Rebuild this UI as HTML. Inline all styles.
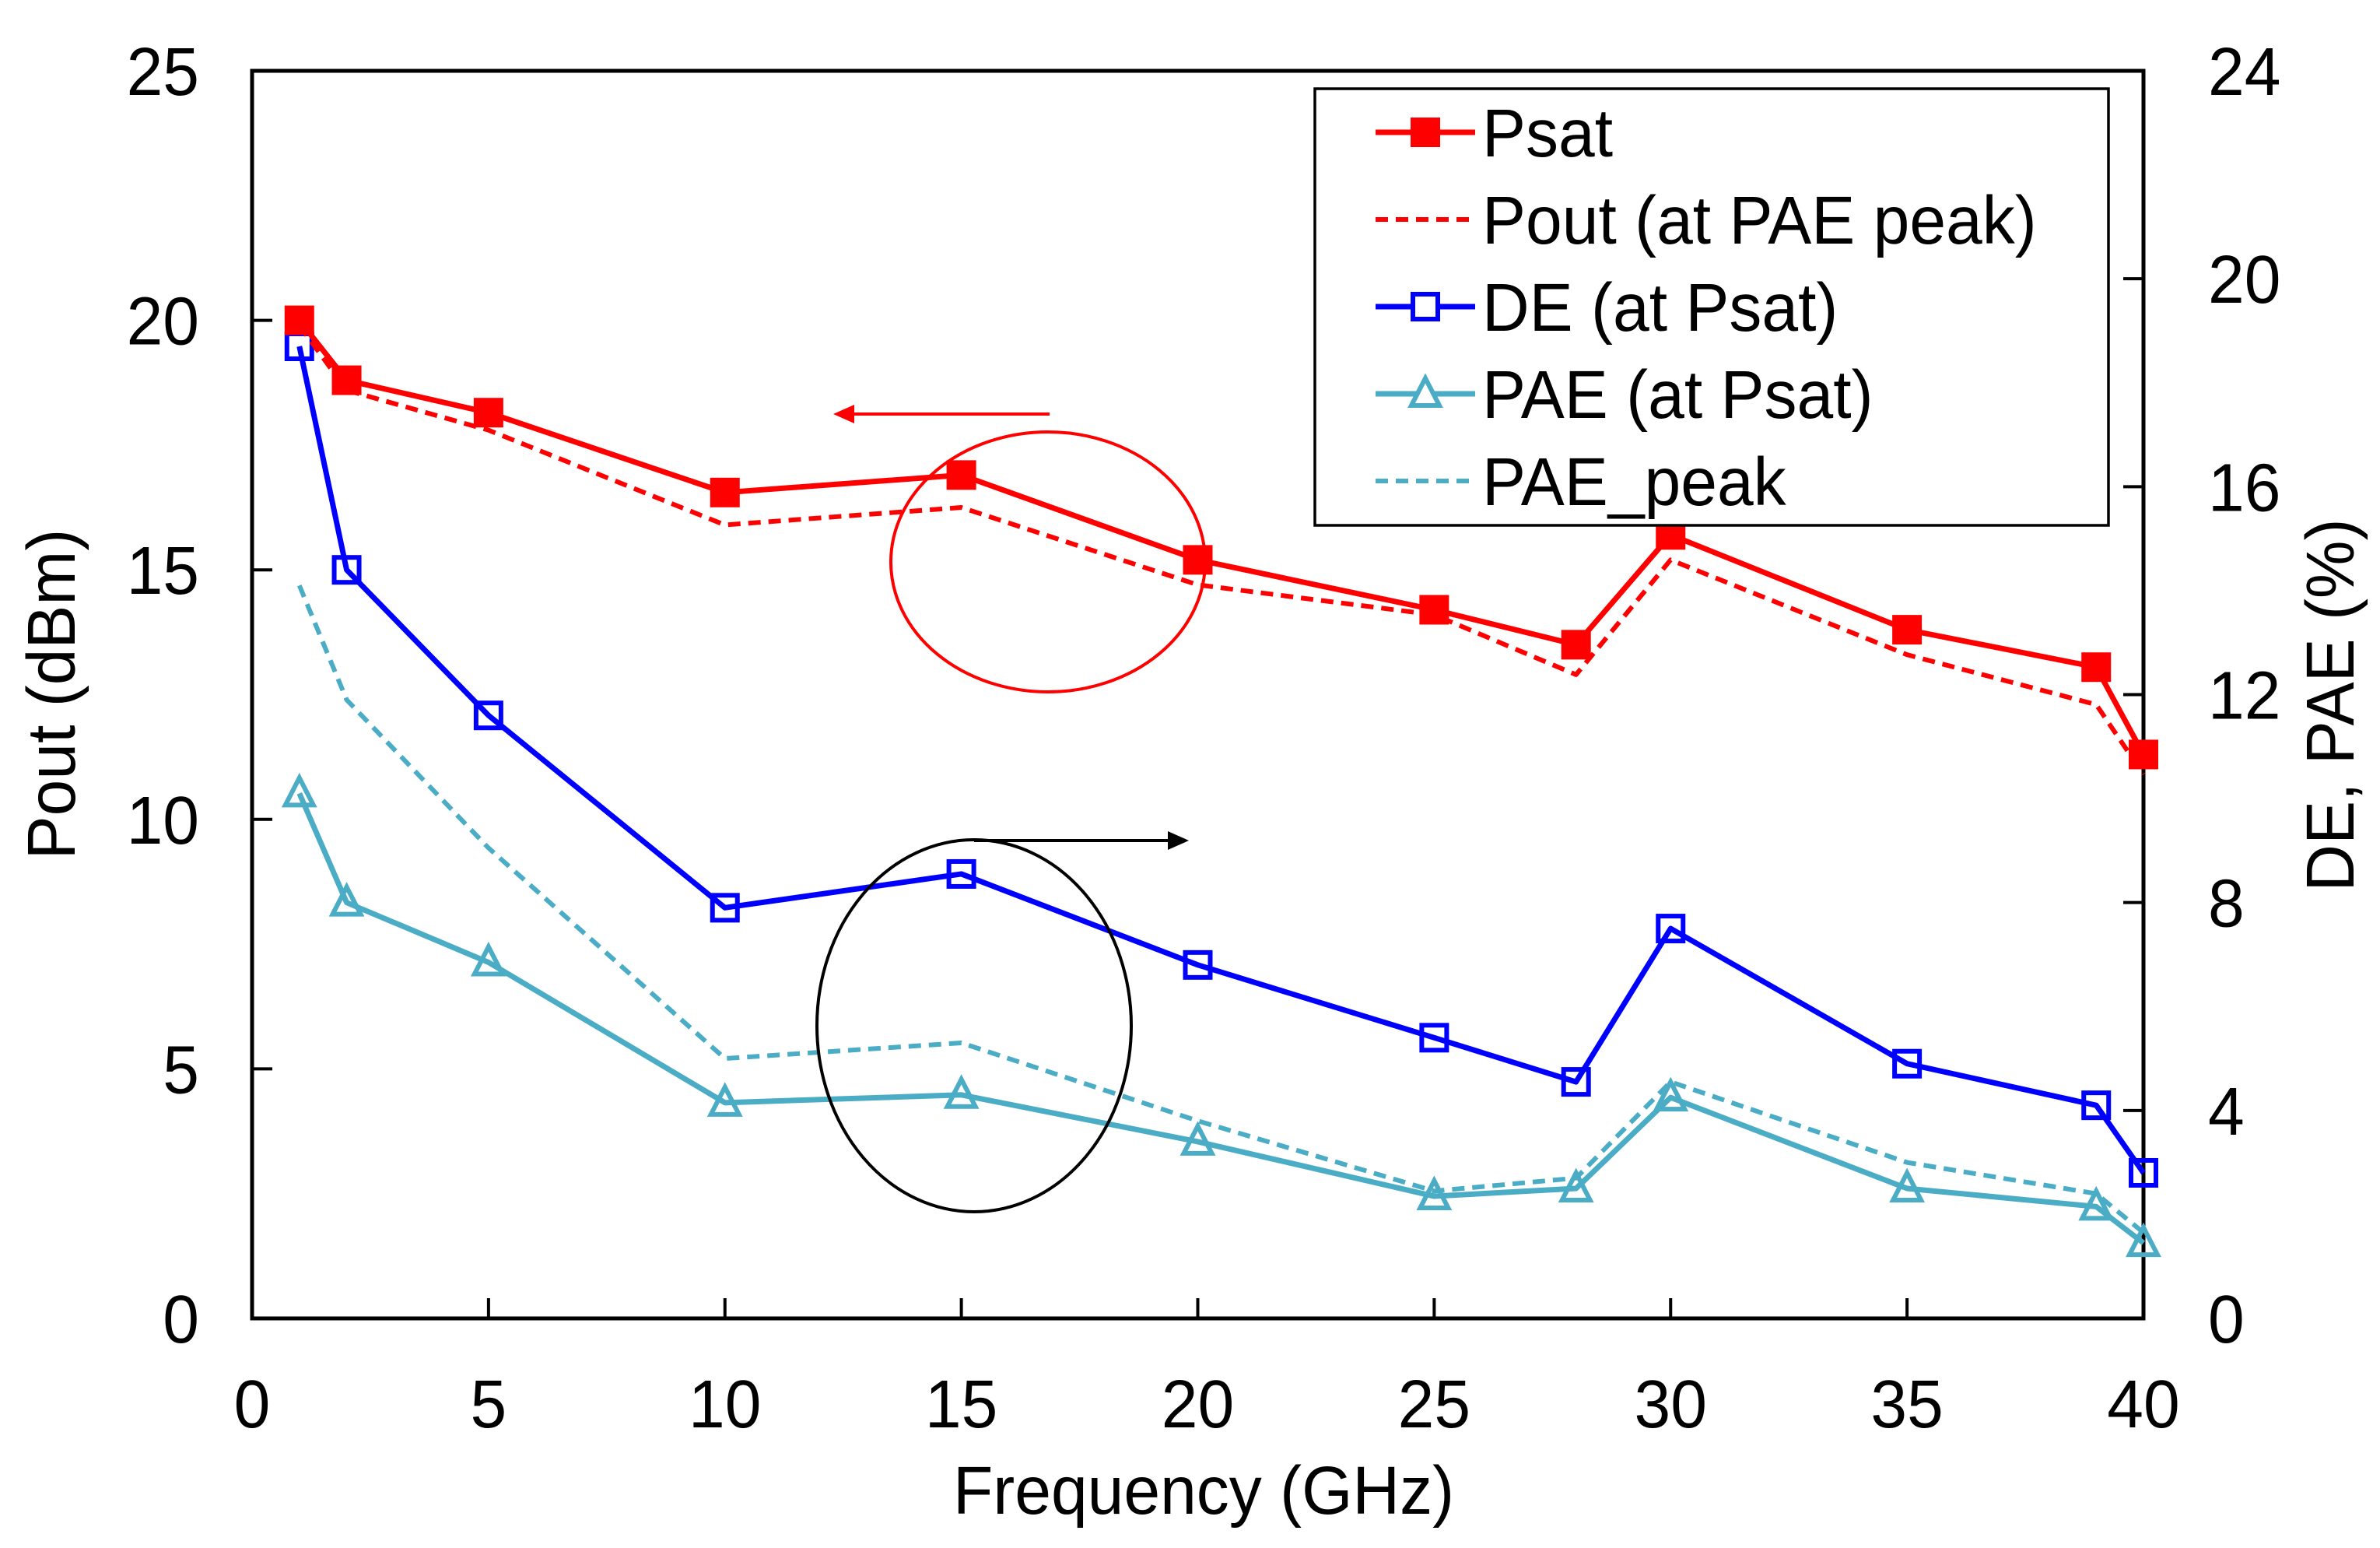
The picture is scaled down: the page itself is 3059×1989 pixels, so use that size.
<!DOCTYPE html>
<html><head><meta charset="utf-8"><style>
html,body{margin:0;padding:0;background:#fff}
svg{display:block}
text{font-family:"Liberation Sans",Arial,sans-serif;fill:#000}
</style></head><body>
<svg id="chart" width="3059" height="1989" viewBox="0 0 3059 1989" xmlns="http://www.w3.org/2000/svg">
<g id="plot"></g>
</svg>
<script>
const freqs=[1,2,5,10,15,20,25,28,30,35,39,40];
const psat=[20.0,18.8,18.15,16.55,16.9,15.2,14.2,13.5,15.7,13.8,13.05,11.3];
const poutPeak=[19.9,18.6,17.8,15.9,16.25,14.7,14.1,12.9,15.2,13.3,12.3,10.9];
const de=[18.7,14.4,11.6,7.9,8.55,6.8,5.4,4.55,7.5,4.9,4.1,2.8];
const pae=[10.1,8.0,6.85,4.15,4.3,3.4,2.35,2.5,4.25,2.5,2.15,1.45];
const paePeak=[14.1,11.9,9.05,5.0,5.3,3.8,2.45,2.7,4.55,3.0,2.4,1.65];
const xTicks=[0,5,10,15,20,25,30,35,40];
const yLeftTicks=[0,5,10,15,20,25];
const yRightTicks=[0,4,8,12,16,20,24];

const L=324,R=2755,T=91,B=1694;
const sx=v=>L+(v-0)/40*(R-L);
const syL=v=>B-(v/25)*(B-T);
const syR=v=>B-(v/24)*(B-T);
const NS='http://www.w3.org/2000/svg';
const g=document.getElementById('plot');
function mk(tag,attrs,parent){const e=document.createElementNS(NS,tag);for(const k in attrs)e.setAttribute(k,attrs[k]);(parent||g).appendChild(e);return e;}
function txt(x,y,s,anchor,size,parent){
  const t=mk('text',{x:0,y:0,'text-anchor':anchor,'font-size':size,transform:`translate(${x},${y}) scale(1,1.04)`},parent);
  t.textContent=s;return t;
}

let fr=mk('rect',{x:L,y:T,width:R-L,height:B-T,fill:'none',stroke:'#000','stroke-width':5});



xTicks.forEach(v=>{
  const t=mk('line',{x1:sx(v),x2:sx(v),y1:B,y2:B-26,stroke:'#000','stroke-width':4});
  
  
  const l=txt(sx(v),1834,String(v),'middle',84);
  
  
});
yLeftTicks.forEach(v=>{
  const t=mk('line',{x1:L,x2:L+26,y1:syL(v),y2:syL(v),stroke:'#000','stroke-width':4});
  
  
  const l=txt(256,syL(v)+31,String(v),'end',84);
  
  
});
yRightTicks.forEach(v=>{
  const t=mk('line',{x1:R,x2:R-26,y1:syR(v),y2:syR(v),stroke:'#000','stroke-width':4});
  
  
  const l=txt(2838,syR(v)+31,String(v),'start',84);
  
  
});

let xt=txt(1547,1945,'Frequency (GHz)','middle',84);


let yl=mk('text',{x:0,y:0,'text-anchor':'middle','font-size':84,transform:'translate(96,892) rotate(-90) scale(1,1.04)'});
yl.textContent='Pout (dBm)';


let yr=mk('text',{x:0,y:0,'text-anchor':'middle','font-size':84,transform:'translate(3025,906) rotate(-90) scale(1,1.04)'});
yr.textContent='DE, PAE (%)';



function series(vals,sy,color,dash,marker,name){
  const pts=freqs.map((f,i)=>sx(f)+','+sy(vals[i])).join(' ');
  const p=mk('polyline',{points:pts,fill:'none',stroke:color,'stroke-width':dash?6:7,'stroke-dasharray':dash||'none','stroke-linejoin':'round'});
  
  
  if(!marker)return;
  freqs.forEach((f,i)=>{
    const x=sx(f),y=sy(vals[i]);let m;
    if(marker==='fsq')m=mk('rect',{x:x-19,y:y-19,width:38,height:38,fill:color});
    else if(marker==='osq')m=mk('rect',{x:x-16,y:y-16,width:32,height:32,fill:'none',stroke:color,'stroke-width':6});
    else m=mk('polygon',{points:`${x},${y-20} ${x-18},${y+15} ${x+18},${y+15}`,fill:'none',stroke:color,'stroke-width':6});
    
    
  });
}
series(paePeak,syR,'#4bacc6','16 10',null,'pae-peak');
series(pae,syR,'#4bacc6',null,'tri','pae');
series(de,syR,'#0000ff',null,'osq','de');
series(poutPeak,syL,'#ff0000','16 10',null,'pout-peak');
series(psat,syL,'#ff0000',null,'fsq','psat');

let e1=mk('ellipse',{cx:1347,cy:722,rx:202,ry:167,fill:'none',stroke:'#ff0000','stroke-width':4});


let a1=mk('line',{x1:1349,y1:532,x2:1095,y2:532,stroke:'#ff0000','stroke-width':4});


let a1h=mk('polygon',{points:'1071,532 1098,520 1098,544',fill:'#ff0000'});


let e2=mk('ellipse',{cx:1252,cy:1318,rx:202,ry:239,fill:'none',stroke:'#000','stroke-width':4});


let a2=mk('line',{x1:1252,y1:1080,x2:1504,y2:1080,stroke:'#000','stroke-width':4});


let a2h=mk('polygon',{points:'1528,1080 1501,1068 1501,1092',fill:'#000'});



const lg=mk('g',{});


let lb=mk('rect',{x:1690,y:114,width:1020,height:561,fill:'#fff',stroke:'#000','stroke-width':3.5},lg);


const legNames=['Psat','Pout (at PAE peak)','DE (at Psat)','PAE (at Psat)','PAE_peak'];
const legColors=['#ff0000','#ff0000','#0000ff','#4bacc6','#4bacc6'];
const legDash=[null,'16 10',null,null,'16 10'];
const legMark=['fsq',null,'osq','tri',null];
legNames.forEach((n,i)=>{
  const y=170+i*112;
  const ln=mk('line',{x1:1768,x2:1896,y1:y,y2:y,stroke:legColors[i],'stroke-width':legDash[i]?6:7,'stroke-dasharray':legDash[i]||'none'},lg);
  
  
  const x=1832;let m=null;
  if(legMark[i]==='fsq')m=mk('rect',{x:x-19,y:y-19,width:38,height:38,fill:legColors[i]},lg);
  else if(legMark[i]==='osq')m=mk('rect',{x:x-16,y:y-16,width:32,height:32,fill:'#fff',stroke:legColors[i],'stroke-width':6},lg);
  else if(legMark[i]==='tri')m=mk('polygon',{points:`${x},${y-20} ${x-18},${y+15} ${x+18},${y+15}`,fill:'#fff',stroke:legColors[i],'stroke-width':6},lg);
  if(m){}
  const t=txt(1905,y+31,n,'start',84,lg);
  
  
});
</script>
</body></html>
